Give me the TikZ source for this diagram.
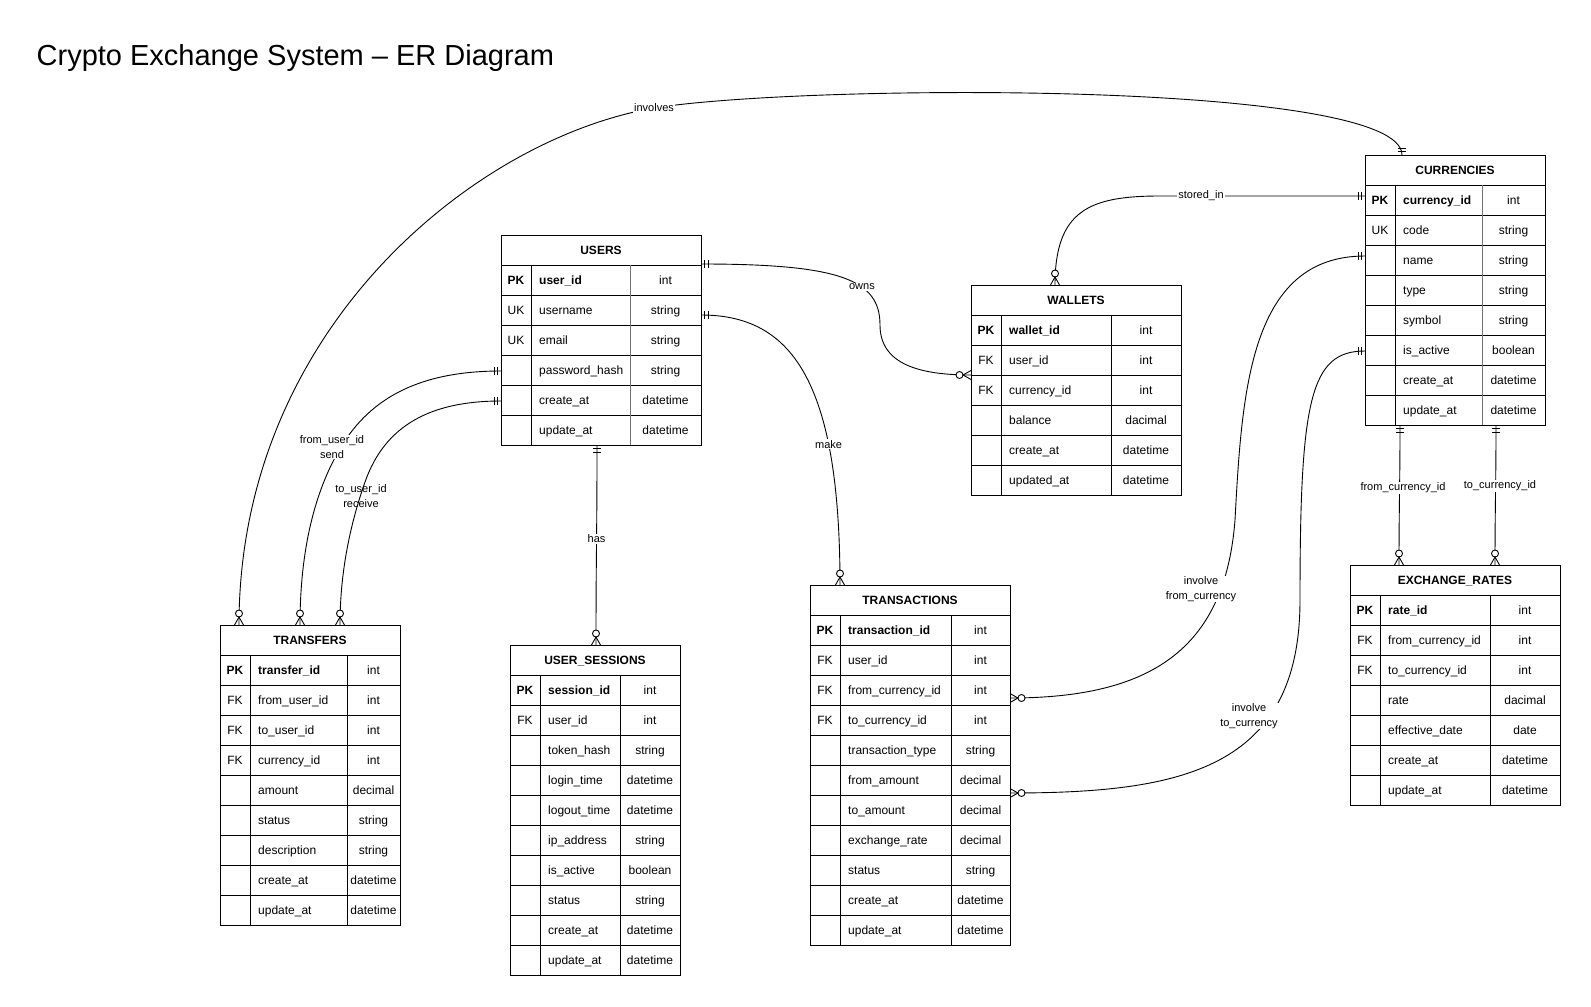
\documentclass[tikz,border=0pt]{standalone}
\usepackage{fontspec}
\setmainfont{Liberation Sans}
\usetikzlibrary{calc}

\tikzset{
  tblframe/.style={draw, line width=1pt, inner sep=0pt, outer sep=0pt, anchor=north west, fill=white},
  tbltext/.style={inner sep=0pt, font=\fontsize{12}{14}\selectfont},
  tblline/.style={line width=1pt},
  link/.style={line width=0.9pt},
  lbl/.style={font=\fontsize{11}{14.5}\selectfont, fill=white, inner sep=1pt, align=center},
  lblclear/.style={font=\fontsize{11}{14.5}\selectfont, inner sep=1pt, align=center}
}

% entity table: name, position (top left), key/name/type column widths,
% number of rows, colour of the type divider, title, rows key/name/type
\newcommand{\ertable}[9]{%
  \pgfmathsetmacro{\tblW}{#3+#4+#5}%
  \pgfmathsetmacro{\tblH}{30+30*#6}%
  \node[tblframe, minimum width=\tblW pt, minimum height=\tblH pt] (#1) at #2 {};
  \node[tbltext, font=\fontsize{12}{14}\selectfont\bfseries, anchor=base] (#1-title)
    at ($(#1.north west)+(\tblW/2,19.2)$) {#8};
  \draw[tblline] ($(#1.north west)+(0,30)$) -- ++(\tblW,0);
  \foreach \colk/\coln/\colt [count=\ri] in {#9} {
    \pgfmathsetmacro{\ry}{30*\ri+19.2}
    \node[tbltext, anchor=base] (#1-k\ri) at ($(#1.north west)+(#3/2,\ry)$) {\colk};
    \node[tbltext, anchor=base west] (#1-n\ri) at ($(#1.north west)+(#3+8,\ry)$) {\coln};
    \node[tbltext, anchor=base] (#1-t\ri) at ($(#1.north west)+(#3+#4+#5/2,\ry)$) {\colt};
    \ifnum\ri<#6
      \draw[tblline] ($(#1.north west)+(0,30*\ri+30)$) -- ++(\tblW,0);
    \fi
  }
  \draw[tblline] ($(#1.north west)+(#3,30)$) -- ++(0,30*#6);
  \draw[tblline, draw=#7] ($(#1.north west)+(#3+#4,30)$) -- ++(0,30*#6);
}

% one and only one: two bars across the line near the entity edge
\newcommand{\mandone}[2]{%
  \begin{scope}[shift={(#1)}, rotate=#2]
    \draw[link] (3.5,-4) -- (3.5,4) (7,-4) -- (7,4);
  \end{scope}}
% zero or many: crow's foot and a ring
\newcommand{\zeromany}[2]{%
  \begin{scope}[shift={(#1)}, rotate=#2]
    \draw[link] (0,-4.5) -- (8,0) -- (0,4.5);
    \draw[link, fill=white] (11.5,0) circle[radius=3.5];
  \end{scope}}

\begin{document}
\begin{tikzpicture}[x=1pt, y=-1pt]
\fill[white] (0,0) rectangle (1591,1007);
\useasboundingbox (0,0) rectangle (1591,1007);

\node[anchor=base west, inner sep=0pt, font=\fontsize{29}{34}\selectfont] (title)
  at (36.5,65) {Crypto Exchange System – ER Diagram};

% ---------------- entities ----------------
\ertable{users}{(501,235)}{30}{99}{71}{6}{black!55}{USERS}{
  \textbf{PK}/\textbf{user\_id}/int,
  UK/username/string,
  UK/email/string,
  /password\_hash/string,
  /create\_at/datetime,
  /update\_at/datetime}

\ertable{wallets}{(971,285)}{30}{110}{70}{6}{black}{WALLETS}{
  \textbf{PK}/\textbf{wallet\_id}/int,
  FK/user\_id/int,
  FK/currency\_id/int,
  /balance/dacimal,
  /create\_at/datetime,
  /updated\_at/datetime}

\ertable{currencies}{(1365,155)}{30}{87}{63}{8}{black!55}{CURRENCIES}{
  \textbf{PK}/\textbf{currency\_id}/int,
  UK/code/string,
  /name/string,
  /type/string,
  /symbol/string,
  /is\_active/boolean,
  /create\_at/datetime,
  /update\_at/datetime}

\ertable{transfers}{(220,625)}{30}{97}{53}{9}{black}{TRANSFERS}{
  \textbf{PK}/\textbf{transfer\_id}/int,
  FK/from\_user\_id/int,
  FK/to\_user\_id/int,
  FK/currency\_id/int,
  /amount/decimal,
  /status/string,
  /description/string,
  /create\_at/datetime,
  /update\_at/datetime}

\ertable{sessions}{(510,645)}{30}{80}{60}{10}{black}{USER\_SESSIONS}{
  \textbf{PK}/\textbf{session\_id}/int,
  FK/user\_id/int,
  /token\_hash/string,
  /login\_time/datetime,
  /logout\_time/datetime,
  /ip\_address/string,
  /is\_active/boolean,
  /status/string,
  /create\_at/datetime,
  /update\_at/datetime}

\ertable{transactions}{(810,585)}{30}{111}{59}{11}{black}{TRANSACTIONS}{
  \textbf{PK}/\textbf{transaction\_id}/int,
  FK/user\_id/int,
  FK/from\_currency\_id/int,
  FK/to\_currency\_id/int,
  /transaction\_type/string,
  /from\_amount/decimal,
  /to\_amount/decimal,
  /exchange\_rate/decimal,
  /status/string,
  /create\_at/datetime,
  /update\_at/datetime}

\ertable{rates}{(1350,565)}{30}{110}{70}{7}{black}{EXCHANGE\_RATES}{
  \textbf{PK}/\textbf{rate\_id}/int,
  FK/from\_currency\_id/int,
  FK/to\_currency\_id/int,
  /rate/dacimal,
  /effective\_date/date,
  /create\_at/datetime,
  /update\_at/datetime}

% ---------------- connector ends ----------------
\coordinate (u-owns) at ($(users.north east)+(0,29)$);
\coordinate (u-make) at ($(users.north east)+(0,80)$);
\coordinate (u-send) at ($(users.north west)+(0,136)$);
\coordinate (u-recv) at ($(users.north west)+(0,166)$);
\coordinate (u-has)  at ($(users.south west)+(96,0)$);
\coordinate (w-owns) at ($(wallets.north west)+(0,90)$);
\coordinate (w-store) at ($(wallets.north west)+(84,0)$);
\coordinate (c-store) at ($(currencies.north west)+(0,41)$);
\coordinate (c-inv)  at ($(currencies.north west)+(37,0)$);
\coordinate (c-from) at ($(currencies.north west)+(0,101)$);
\coordinate (c-to)   at ($(currencies.north west)+(0,196)$);
\coordinate (c-erf)  at ($(currencies.south west)+(35,0)$);
\coordinate (c-ert)  at ($(currencies.south west)+(131,0)$);
\coordinate (tf-inv) at ($(transfers.north west)+(19,0)$);
\coordinate (tf-send) at ($(transfers.north west)+(80,0)$);
\coordinate (tf-recv) at ($(transfers.north west)+(120,0)$);
\coordinate (s-has)  at ($(sessions.north west)+(86,0)$);
\coordinate (tx-make) at ($(transactions.north west)+(30,0)$);
\coordinate (tx-from) at ($(transactions.north east)+(0,113)$);
\coordinate (tx-to)  at ($(transactions.north east)+(0,208)$);
\coordinate (er-from) at ($(rates.north west)+(49,0)$);
\coordinate (er-to)  at ($(rates.north west)+(145,0)$);

% ---------------- relationships ----------------
\draw[link] (tf-inv) .. controls +(0,-295) and +(-180,31) .. (654,108)
  node[lbl] (l-inv) {involves}
  .. controls +(150,-24) and +(0,-75) .. (c-inv);

\draw[link] (w-store) .. controls +(0,-75) and +(-70,0) .. (1160,196)
  -- node[lbl, pos=0.2] (l-store) {stored\_in} (c-store);

\draw[link] (u-owns) .. controls +(140,0) and +(0,-45) .. node[lbl, pos=0.64] (l-owns) {owns} (880,325)
  .. controls +(0,40) and +(-50,0) .. (w-owns);

\draw[link] (u-make) .. controls +(90,0) and +(0,-205) .. node[lbl, pos=0.72] (l-make) {make} (tx-make);

\draw[link] (u-has) .. controls +(0,95) and +(0,-95) .. node[lbl, pos=0.46] (l-has) {has} (s-has);

\draw[link] (u-send) .. controls +(-80,0) and +(30,-50) .. (341,447)
  .. controls +(-30,50) and +(0,-65) .. (tf-send);
\node[lbl] (l-send) at (332,447) {from\_user\_id\\send};

\draw[link] (u-recv) .. controls +(-70,0) and +(20,-57) .. (365,482)
  .. controls +(-14,40) and +(0,-55) .. (tf-recv);
\node[lblclear] (l-recv) at (361,496) {to\_user\_id\\receive};

\draw[link] (tx-from) .. controls +(140,0) and +(-10,130) .. (1235,520)
  .. controls +(7,-130) and +(-115,0) .. (c-from);
\node[lbl] (l-from) at (1201,589) {involve\\from\_currency};

\draw[link] (tx-to) .. controls +(170,0) and +(0,170) .. (1300,600)
  .. controls +(0,-200) and +(-55,0) .. (c-to);
\node[lbl] (l-to) at (1249,716) {involve\\to\_currency};

\draw[link] (c-erf) .. controls +(0,60) and +(0,-60) .. (er-from);
\node[lbl] (l-erf) at (1403,488) {from\_currency\_id};
\draw[link] (c-ert) .. controls +(0,60) and +(0,-60) .. (er-to);
\node[lbl] (l-ert) at (1500,486) {to\_currency\_id};

% ---------------- cardinality marks ----------------
\mandone{c-inv}{90}
\zeromany{tf-inv}{90}
\mandone{c-store}{180}
\zeromany{w-store}{90}
\mandone{u-owns}{0}
\zeromany{w-owns}{180}
\mandone{u-make}{0}
\zeromany{tx-make}{90}
\mandone{u-has}{270}
\zeromany{s-has}{90}
\mandone{u-send}{180}
\mandone{u-recv}{180}
\zeromany{tf-send}{90}
\zeromany{tf-recv}{90}
\mandone{c-from}{180}
\mandone{c-to}{180}
\zeromany{tx-from}{0}
\zeromany{tx-to}{0}
\mandone{c-erf}{270}
\mandone{c-ert}{270}
\zeromany{er-from}{90}
\zeromany{er-to}{90}
\end{tikzpicture}
\end{document}
